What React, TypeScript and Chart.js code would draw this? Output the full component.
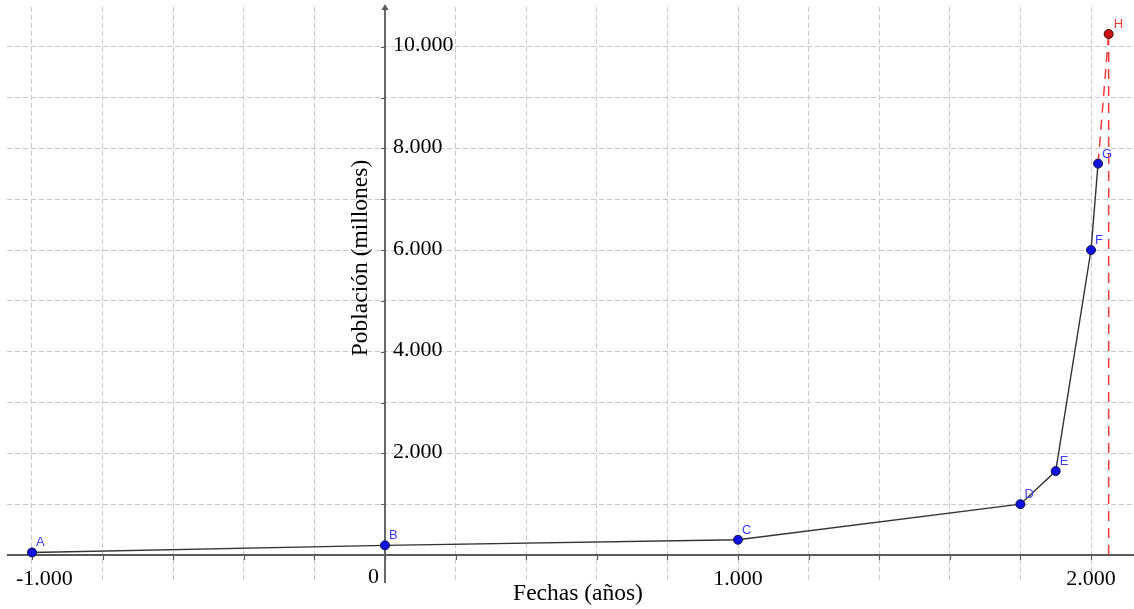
import React, { useEffect, useRef } from "react";
import { Chart, registerables } from "chart.js";

Chart.register(...registerables);

// ---- data ----
const pointNames = ["A", "B", "C", "D", "E", "F", "G"];
const years = [-1000, 0, 1000, 1800, 1900, 2000, 2020];
const population = [50, 190, 300, 1000, 1650, 6000, 7700];
const projectionName = "H";
const projectionYear = 2050;
const projectionPopulation = 10250;

const xLabelValues = [-1000, 1000, 2000];
const yLabelValues = [2000, 4000, 6000, 8000, 10000];
const xTitle = "Fechas (años)";
const yTitle = "Población (millones)";

// ---- axis range / grid steps ----
const X_MIN = -1070.8;
const X_MAX = 2121.8;
const Y_MIN = -551;
const Y_MAX = 10781;
const X_STEP = 200;
const Y_STEP = 1000;

// ---- styles ----
const SERIF = '"Liberation Serif", "Times New Roman", serif';
const SANS = '"Liberation Sans", Arial, sans-serif';
const axisColor = "#5a5a5a";
const gridColor = "#c8c8c8";
const pointBlue = "#1010e0";
const labelBlue = "#3c3cff";
const red = "#f03a3a";

function fmt(v: number): string {
  const s = Math.abs(v).toString().replace(/\B(?=(\d{3})+(?!\d))/g, ".");
  return (v < 0 ? "-" : "") + s;
}

function gridTicks(min: number, max: number, step: number, from?: number) {
  const out: { value: number }[] = [];
  const start = from !== undefined ? from : Math.ceil(min / step) * step;
  for (let v = start; v <= max; v += step) out.push({ value: v });
  return out;
}

const geoPlugin = {
  id: "geoAxes",
  beforeDatasetsDraw(chart: any) {
    const { ctx, chartArea } = chart;
    const xs = chart.scales.x;
    const ys = chart.scales.y;
    const ox = xs.getPixelForValue(0);
    const oy = ys.getPixelForValue(0);
    ctx.save();
    // axes lines
    ctx.strokeStyle = axisColor;
    ctx.lineWidth = 1.8;
    ctx.beginPath();
    ctx.moveTo(chartArea.left, oy);
    ctx.lineTo(chartArea.right, oy);
    ctx.stroke();
    ctx.beginPath();
    ctx.moveTo(ox, chartArea.bottom);
    ctx.lineTo(ox, chartArea.top);
    ctx.stroke();
    // arrow on y axis
    ctx.fillStyle = axisColor;
    ctx.beginPath();
    ctx.moveTo(ox, chartArea.top - 3);
    ctx.lineTo(ox - 3.5, chartArea.top + 3);
    ctx.lineTo(ox + 3.5, chartArea.top + 3);
    ctx.closePath();
    ctx.fill();
    // tick marks
    ctx.lineWidth = 1.2;
    ctx.beginPath();
    xs.ticks.forEach((t: any) => {
      const px = Math.round(xs.getPixelForValue(t.value)) + 0.5;
      ctx.moveTo(px, oy);
      ctx.lineTo(px, oy + 5);
    });
    ys.ticks.forEach((t: any) => {
      const py = Math.round(ys.getPixelForValue(t.value)) + 0.5;
      ctx.moveTo(ox - 4, py);
      ctx.lineTo(ox, py);
    });
    ctx.stroke();

    // tick labels
    ctx.fillStyle = "#000";
    ctx.font = `22px ${SERIF}`;
    ctx.textBaseline = "alphabetic";
    ctx.textAlign = "left";
    xLabelValues.forEach((v) => {
      const txt = fmt(v);
      const w = ctx.measureText(txt).width;
      let left = xs.getPixelForValue(v) - w / 2;
      if (left < chartArea.left + 9) left = chartArea.left + 9;
      ctx.fillText(txt, left, oy + 30);
    });
    ctx.textAlign = "right";
    ctx.fillText("0", ox - 6, oy + 28);
    ctx.textAlign = "left";
    ctx.textBaseline = "middle";
    yLabelValues.forEach((v) => {
      ctx.fillText(fmt(v), ox + 8, ys.getPixelForValue(v) - 1);
    });

    // titles
    ctx.font = `23.5px ${SERIF}`;
    ctx.textAlign = "center";
    ctx.textBaseline = "alphabetic";
    ctx.fillText(xTitle, 578, chart.height - 9);
    ctx.save();
    ctx.translate(ox - 18, 258);
    ctx.rotate(-Math.PI / 2);
    ctx.fillText(yTitle, 0, 0);
    ctx.restore();
    ctx.restore();
  },
  afterDatasetsDraw(chart: any) {
    const { ctx } = chart;
    const xs = chart.scales.x;
    const ys = chart.scales.y;
    ctx.save();
    ctx.font = `13px ${SANS}`;
    ctx.textAlign = "left";
    ctx.textBaseline = "alphabetic";
    ctx.fillStyle = labelBlue;
    pointNames.forEach((n, i) => {
      ctx.fillText(n, xs.getPixelForValue(years[i]) + 4, ys.getPixelForValue(population[i]) - 6);
    });
    ctx.fillStyle = red;
    ctx.fillText(
      projectionName,
      xs.getPixelForValue(projectionYear) + 5,
      ys.getPixelForValue(projectionPopulation) - 6
    );
    ctx.restore();
  },
};

export default function App() {
  const ref = useRef<HTMLCanvasElement>(null);
  useEffect(() => {
    if (!ref.current) return;
    const chart = new Chart(ref.current, {
      type: "scatter",
      data: {
        datasets: [
          {
            data: years.map((x, i) => ({ x, y: population[i] })),
            showLine: true,
            borderColor: "#333333",
            borderWidth: 1.4,
            pointRadius: 4.5,
            pointBackgroundColor: pointBlue,
            pointBorderColor: "#10104a",
            pointBorderWidth: 1,
            order: 0,
          },
          {
            data: [
              { x: years[years.length - 1], y: population[population.length - 1] },
              { x: projectionYear, y: projectionPopulation },
            ],
            showLine: true,
            borderColor: red,
            borderWidth: 1.5,
            borderDash: [10, 7],
            pointRadius: [0, 4.5],
            pointBackgroundColor: "#cc1010",
            pointBorderColor: "#3a0a0a",
            pointBorderWidth: 1,
            order: 1,
          },
          {
            data: [
              { x: projectionYear, y: 0 },
              { x: projectionYear, y: projectionPopulation },
            ],
            showLine: true,
            borderColor: red,
            borderWidth: 1.5,
            borderDash: [10, 7],
            pointRadius: 0,
            order: 2,
          },
        ],
      },
      options: {
        animation: false,
        responsive: false,
        layout: { autoPadding: false, padding: { left: 7, top: 7, right: 0, bottom: 26 } },
        plugins: { legend: { display: false }, tooltip: { enabled: false } },
        scales: {
          x: {
            type: "linear",
            min: X_MIN,
            max: X_MAX,
            ticks: { display: false },
            grid: { color: gridColor, lineWidth: 1, drawTicks: false },
            border: { display: false, dash: [5, 3] },
            afterBuildTicks: (s: any) => {
              s.ticks = gridTicks(X_MIN, X_MAX, X_STEP);
            },
            afterFit: (s: any) => {
              s.height = 0;
            },
          },
          y: {
            type: "linear",
            min: Y_MIN,
            max: Y_MAX,
            ticks: { display: false },
            grid: { color: gridColor, lineWidth: 1, drawTicks: false },
            border: { display: false, dash: [5, 3] },
            afterBuildTicks: (s: any) => {
              s.ticks = gridTicks(Y_MIN, Y_MAX, Y_STEP, 0);
            },
            afterFit: (s: any) => {
              s.width = 0;
            },
          },
        },
      },
      plugins: [geoPlugin],
    });
    return () => chart.destroy();
  }, []);
  return (
    <div style={{ position: "fixed", left: 0, top: 0, width: 1134, height: 609, background: "#fff" }}>
      <canvas ref={ref} width={1134} height={609} style={{ width: 1134, height: 609, display: "block" }} />
    </div>
  );
}
